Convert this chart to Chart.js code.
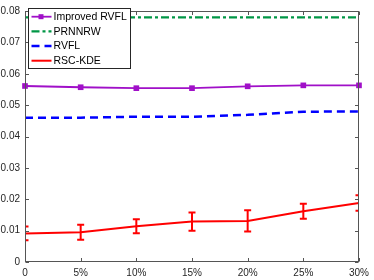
<!DOCTYPE html>
<html>
<head>
<meta charset="utf-8">
<script src="https://cdn.jsdelivr.net/npm/chart.js@4/dist/chart.umd.min.js"></script>
<style>
  html, body { margin: 0; padding: 0; background: #fff; }
  #wrap { width: 374px; height: 280px; }
</style>
</head>
<body>
<div id="wrap"><canvas id="c" width="374" height="280"></canvas></div>
<script>
// данные
const xLabels = ["0", "5%", "10%", "15%", "20%", "25%", "30%"];
const improvedRvfl = [0.0561, 0.0557, 0.0554, 0.0554, 0.0560, 0.0563, 0.0563];
const prnnrw = [0.078, 0.078, 0.078, 0.078, 0.078, 0.078, 0.078];
const rvfl = [0.0460, 0.0460, 0.0463, 0.0463, 0.0469, 0.0479, 0.0480];
const rscKde = [0.0091, 0.0095, 0.0114, 0.0129, 0.0131, 0.0162, 0.0188];
const rscKdeErr = [0.0022, 0.0024, 0.0022, 0.0029, 0.0034, 0.0024, 0.0025];
const yTicks = [0, 0.01, 0.02, 0.03, 0.04, 0.05, 0.06, 0.07, 0.08];

const FONT = "'Liberation Sans', Arial, Helvetica, sans-serif";
const AXIS = "#555";

// рамка и внутренние засечки (как в MATLAB)
const framePlugin = {
  id: "frame",
  afterDatasetsDraw(chart) {
    const { ctx, chartArea: a, scales } = chart;
    const L = Math.round(a.left) + 0.5, R = Math.round(a.right) - 0.5;
    const T = Math.round(a.top) + 0.5, B = Math.round(a.bottom) - 0.5;
    ctx.save();
    ctx.strokeStyle = AXIS;
    ctx.lineWidth = 1;
    ctx.strokeRect(L, T, R - L, B - T);
    ctx.beginPath();
    xLabels.forEach((_, i) => {
      const x = Math.round(scales.x.getPixelForValue(i)) + 0.5;
      ctx.moveTo(x, B); ctx.lineTo(x, B - 3.5);
      ctx.moveTo(x, T); ctx.lineTo(x, T + 3.5);
    });
    yTicks.forEach(v => {
      const y = Math.round(scales.y.getPixelForValue(v)) + 0.5;
      ctx.moveTo(L, y); ctx.lineTo(L + 3.5, y);
      ctx.moveTo(R, y); ctx.lineTo(R - 3.5, y);
    });
    ctx.stroke();
    ctx.restore();
  }
};

// планки погрешностей для RSC-KDE
const errPlugin = {
  id: "errbars",
  afterDatasetsDraw(chart) {
    const { ctx, chartArea: a, scales } = chart;
    ctx.save();
    ctx.beginPath();
    ctx.rect(a.left, a.top, a.right - a.left, a.bottom - a.top);
    ctx.clip();
    ctx.strokeStyle = "#ff0000";
    ctx.lineWidth = 2;
    ctx.beginPath();
    rscKde.forEach((v, i) => {
      const x = scales.x.getPixelForValue(i);
      const y1 = scales.y.getPixelForValue(v - rscKdeErr[i]);
      const y2 = scales.y.getPixelForValue(v + rscKdeErr[i]);
      ctx.moveTo(x, y1); ctx.lineTo(x, y2);
      ctx.moveTo(x - 3.5, y1); ctx.lineTo(x + 3.5, y1);
      ctx.moveTo(x - 3.5, y2); ctx.lineTo(x + 3.5, y2);
    });
    ctx.stroke();
    ctx.restore();
  }
};

// легенда в рамке, образцы линий берём из датасетов
const legendPlugin = {
  id: "boxLegend",
  afterDraw(chart) {
    const { ctx } = chart;
    const x0 = 28.5, y0 = 8.5, w = 102, h = 60;
    ctx.save();
    ctx.fillStyle = "#fff";
    ctx.fillRect(x0, y0, w, h);
    ctx.strokeStyle = "#262626";
    ctx.lineWidth = 1;
    ctx.strokeRect(x0, y0, w, h);
    ctx.font = "10.5px " + FONT;
    ctx.textBaseline = "middle";
    chart.data.datasets.forEach((ds, i) => {
      const y = 16.7 + i * 14.67;
      ctx.strokeStyle = ds.borderColor;
      ctx.lineWidth = ds.borderWidth;
      ctx.setLineDash(ds.borderDash || []);
      ctx.beginPath();
      ctx.moveTo(31.5, y); ctx.lineTo(51.5, y);
      ctx.stroke();
      ctx.setLineDash([]);
      if (ds.pointRadius > 0) {
        ctx.fillStyle = ds.borderColor;
        ctx.fillRect(41 - 2.5, y - 2.5, 5, 5);
      }
      ctx.fillStyle = "#000";
      ctx.fillText(ds.label, 53.5, y + 0.5);
    });
    ctx.restore();
  }
};

new Chart(document.getElementById("c").getContext("2d"), {
  type: "line",
  data: {
    labels: xLabels,
    datasets: [
      { label: "Improved RVFL", data: improvedRvfl, borderColor: "#a010c8", backgroundColor: "#a010c8",
        borderWidth: 1.8, pointStyle: "rect", pointRadius: 4, pointBorderWidth: 0, tension: 0, clip: false },
      { label: "PRNNRW", data: prnnrw, borderColor: "#009645", borderWidth: 2.2,
        borderDash: [8, 3, 3, 3], pointRadius: 0, tension: 0 },
      { label: "RVFL", data: rvfl, borderColor: "#0000ff", borderWidth: 2.5,
        borderDash: [8, 5], pointRadius: 0, tension: 0 },
      { label: "RSC-KDE", data: rscKde, borderColor: "#ff0000", borderWidth: 2,
        pointRadius: 0, tension: 0 }
    ]
  },
  options: {
    responsive: false,
    animation: false,
    devicePixelRatio: 1,
    layout: { padding: { top: 6, right: 11, left: 0, bottom: 0 } },
    plugins: { legend: { display: false }, tooltip: { enabled: false } },
    scales: {
      x: {
        type: "category",
        offset: false,
        grid: { display: false, drawTicks: false },
        border: { display: false },
        ticks: { padding: 5, color: "#262626", font: { family: FONT, size: 10 }, maxRotation: 0, autoSkip: false },
        afterFit(s) { s.height = 18; }
      },
      y: {
        min: 0, max: 0.08,
        grid: { display: false, drawTicks: false },
        border: { display: false },
        afterBuildTicks(s) { s.ticks = yTicks.map(v => ({ value: v })); },
        ticks: {
          padding: 5, color: "#262626", font: { family: FONT, size: 10 },
          callback: v => (v === 0 ? "0" : v.toFixed(2))
        },
        afterFit(s) { s.width = 25; }
      }
    }
  },
  plugins: [errPlugin, framePlugin, legendPlugin]
});
</script>
</body>
</html>
